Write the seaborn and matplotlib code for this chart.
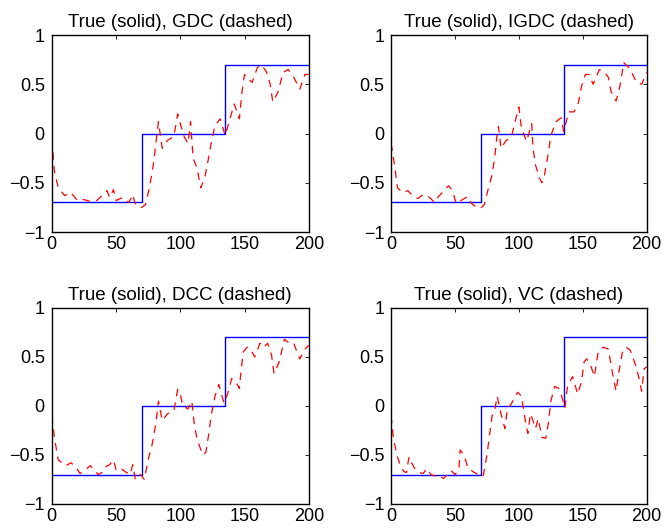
import numpy as np
import pandas as pd
import matplotlib
matplotlib.use("Agg")
import matplotlib.pyplot as plt
import seaborn as sns

# True (solid) step function
true_t = [0, 70, 135, 200]
true_v = [-0.7, 0.0, 0.7, 0.7]

# GDC estimate
gdc_t = [0, 2, 5, 10, 15, 20, 25, 30, 35, 40, 43, 45, 48, 50, 55, 60, 63, 65, 70, 73,
         76, 79, 81, 83, 86, 90, 95, 98, 100, 103, 106, 108, 110, 113, 116, 119, 122, 124,
         127, 131, 135, 138, 142, 146, 148, 150, 153, 156, 160, 163, 167, 170, 172, 176,
         180, 184, 188, 193, 197, 200]
gdc_v = [-0.05, -0.38, -0.55, -0.63, -0.60, -0.68, -0.67, -0.69, -0.68, -0.62, -0.58, -0.65,
         -0.57, -0.68, -0.65, -0.70, -0.62, -0.72, -0.75, -0.72, -0.55, -0.32, -0.10, 0.12,
         -0.15, -0.07, -0.03, 0.20, 0.10, -0.03, -0.10, 0.12, -0.25, -0.35, -0.55, -0.45,
         -0.25, -0.10, 0.08, 0.15, -0.02, 0.12, 0.30, 0.15, 0.42, 0.60, 0.55, 0.52, 0.67,
         0.70, 0.63, 0.50, 0.32, 0.42, 0.62, 0.65, 0.58, 0.45, 0.60, 0.60]

# IGDC estimate
igdc_t = [0, 1, 3, 5, 9, 13, 17, 21, 25, 28, 31, 34, 37, 40, 42, 45, 48, 51, 56, 60, 63,
          66, 70, 73, 76, 79, 81, 83, 84, 86, 90, 94, 97, 100, 102, 106, 110, 111, 113, 116,
          118, 120, 123, 125, 129, 133, 135, 139, 143, 146, 149, 152, 155, 158, 163, 167,
          170, 172, 176, 179, 182, 186, 189, 192, 196, 200]
igdc_v = [-0.10, -0.18, -0.35, -0.55, -0.60, -0.58, -0.63, -0.66, -0.62, -0.63, -0.66, -0.70,
          -0.64, -0.60, -0.57, -0.53, -0.58, -0.71, -0.67, -0.64, -0.71, -0.74, -0.76, -0.72,
          -0.56, -0.42, -0.25, 0.00, 0.07, -0.15, -0.07, -0.04, 0.12, 0.27, 0.05, -0.08, 0.10,
          -0.15, -0.32, -0.45, -0.50, -0.42, -0.20, -0.02, 0.12, 0.16, 0.02, 0.22, 0.22, 0.28,
          0.48, 0.60, 0.60, 0.50, 0.65, 0.62, 0.57, 0.43, 0.33, 0.48, 0.72, 0.67, 0.60, 0.52,
          0.50, 0.62]

# DCC estimate
dcc_t = [0, 2, 5, 8, 11, 15, 19, 22, 26, 30, 33, 36, 39, 42, 45, 48, 50, 53, 57, 61, 63,
         65, 69, 72, 75, 78, 81, 83, 86, 90, 95, 98, 100, 102, 106, 109, 111, 113, 116, 118,
         120, 122, 124, 127, 130, 134, 137, 140, 143, 146, 147, 149, 152, 155, 158, 162, 165,
         168, 171, 173, 177, 181, 184, 188, 190, 193, 197, 200]
dcc_v = [-0.10, -0.32, -0.55, -0.58, -0.61, -0.58, -0.63, -0.69, -0.65, -0.61, -0.65, -0.70,
         -0.68, -0.62, -0.60, -0.55, -0.65, -0.63, -0.67, -0.70, -0.60, -0.75, -0.70, -0.75,
         -0.55, -0.40, -0.18, 0.05, -0.15, -0.08, -0.05, 0.17, 0.12, 0.00, -0.03, 0.05, -0.20,
         -0.33, -0.45, -0.50, -0.47, -0.30, -0.10, 0.10, 0.22, 0.03, 0.13, 0.28, 0.25, 0.18,
         0.32, 0.55, 0.60, 0.57, 0.50, 0.64, 0.60, 0.64, 0.52, 0.33, 0.45, 0.68, 0.65, 0.65,
         0.58, 0.48, 0.58, 0.62]

# VC estimate
vc_t = [0, 2, 5, 7, 10, 12, 14, 16, 19, 22, 25, 28, 31, 35, 38, 41, 44, 47, 50, 53, 54, 57,
        60, 64, 68, 72, 75, 77, 79, 81, 83, 86, 89, 91, 94, 97, 99, 102, 105, 107, 109, 111,
        113, 115, 118, 121, 123, 125, 128, 131, 133, 136, 138, 142, 146, 149, 151, 153, 156,
        159, 162, 166, 170, 173, 176, 178, 181, 184, 187, 191, 194, 196, 198, 200]
vc_v = [-0.10, -0.35, -0.52, -0.60, -0.67, -0.68, -0.52, -0.58, -0.65, -0.68, -0.69, -0.64,
        -0.70, -0.72, -0.72, -0.74, -0.70, -0.66, -0.70, -0.65, -0.45, -0.50, -0.63, -0.67,
        -0.70, -0.72, -0.50, -0.30, -0.10, -0.05, 0.10, -0.08, -0.23, -0.03, 0.02, 0.10, 0.14,
        0.10, -0.15, -0.28, -0.08, -0.15, -0.23, -0.13, -0.32, -0.33, -0.18, 0.05, 0.20, 0.18,
        0.12, -0.02, 0.20, 0.30, 0.12, 0.25, 0.45, 0.48, 0.42, 0.30, 0.55, 0.60, 0.58, 0.35,
        0.15, 0.33, 0.55, 0.60, 0.57, 0.43, 0.28, 0.15, 0.38, 0.40]

titles = ["True (solid), GDC (dashed)", "True (solid), IGDC (dashed)",
          "True (solid), DCC (dashed)", "True (solid), VC (dashed)"]
estimates = [(gdc_t, gdc_v), (igdc_t, igdc_v), (dcc_t, dcc_v), (vc_t, vc_v)]
xticks = [0, 50, 100, 150, 200]
yticks = [-1, -0.5, 0, 0.5, 1]
yticklabels = ["\u22121", "\u22120.5", "0", "0.5", "1"]

sns.set_style("white")
plt.rcParams['font.family'] = ['Liberation Sans', 'DejaVu Sans']
plt.rcParams['text.color'] = 'black'

fig = plt.figure(figsize=(6.64, 5.31), dpi=100)
positions = [
    [0.078, 0.563, 0.387, 0.371],
    [0.589, 0.563, 0.385, 0.371],
    [0.078, 0.051, 0.387, 0.369],
    [0.589, 0.051, 0.385, 0.369],
]

true_df = pd.DataFrame({"t": true_t, "v": true_v})
for pos, title, (et, ev) in zip(positions, titles, estimates):
    ax = fig.add_axes(pos)
    sns.lineplot(data=true_df, x="t", y="v", ax=ax, color="#0000ff", lw=1.0,
                 drawstyle="steps-post", estimator=None, sort=False)
    est_df = pd.DataFrame({"t": et, "v": ev})
    sns.lineplot(data=est_df, x="t", y="v", ax=ax, color="#ff0000", lw=0.9,
                 linestyle=(0, (6, 5)), estimator=None, sort=False)
    ax.set_xlim(0, 200)
    ax.set_ylim(-1, 1)
    ax.set_xticks(xticks)
    ax.set_xticklabels([str(x) for x in xticks])
    ax.set_yticks(yticks)
    ax.set_yticklabels(yticklabels)
    ax.set_xlabel("")
    ax.set_ylabel("")
    ax.tick_params(direction="in", length=3, width=0.6, top=True, right=True,
                   labelsize=13, colors="black")
    ax.tick_params(axis="x", pad=3)
    ax.tick_params(axis="y", pad=5)
    for s in ax.spines.values():
        s.set_color("black")
        s.set_linewidth(1.0)
    ax.set_title(title, fontsize=13.5, pad=6, color="black")

fig.savefig("out.png", dpi=100)
